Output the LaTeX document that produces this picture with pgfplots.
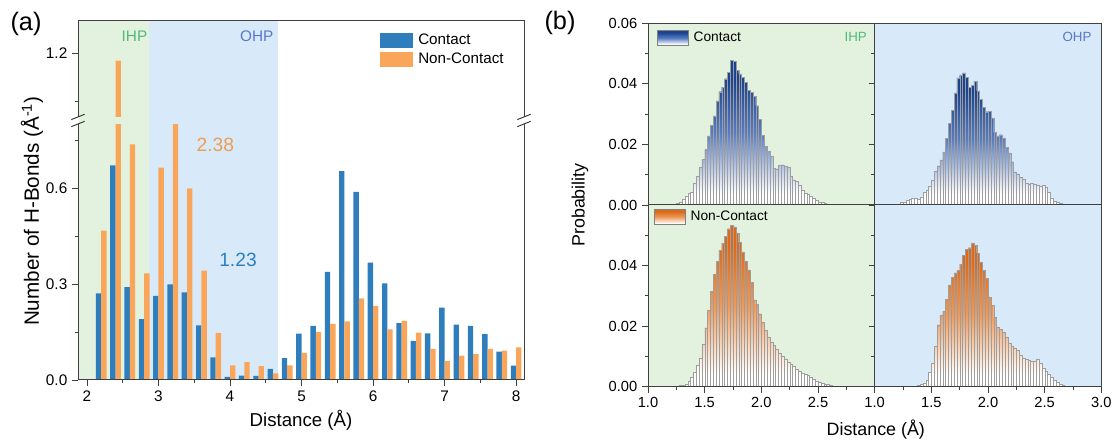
\documentclass[border=0pt]{standalone}
\usepackage{pgfplots}
\pgfplotsset{compat=1.18}
\usepackage{pgfplotstable}
\usepackage{fontspec}
\setmainfont{Liberation Sans}
\usetikzlibrary{calc}

\definecolor{cBlue}{RGB}{46,126,190}
\definecolor{cOrange}{RGB}{250,166,90}
\definecolor{bgGreen}{RGB}{226,242,222}
\definecolor{bgBlue}{RGB}{216,234,249}
\definecolor{tGreen}{RGB}{80,185,120}
\definecolor{tBlue}{RGB}{90,120,200}
\definecolor{cNavy}{RGB}{26,68,145}
\definecolor{cMidB}{RGB}{88,124,192}
\definecolor{cDarkOr}{RGB}{220,106,26}
\definecolor{cMidO}{RGB}{238,155,92}

\pgfdeclareverticalshading{navyshade}{100bp}{color(0bp)=(white); color(25bp)=(white); color(29bp)=(white); color(50bp)=(cMidB); color(68bp)=(cNavy); color(100bp)=(cNavy)}
\pgfdeclareverticalshading{orshade}{100bp}{color(0bp)=(white); color(25bp)=(white); color(29bp)=(white); color(50bp)=(cMidO); color(68bp)=(cDarkOr); color(100bp)=(cDarkOr)}

\pgfplotstableread{
x c nc
2.2 0.271 0.467
2.4 0.671 1.176
2.6 0.290 0.736
2.8 0.190 0.333
3.0 0.263 0.664
3.2 0.299 0.800
3.4 0.274 0.599
3.6 0.171 0.342
3.8 0.071 0.147
4.0 0.010 0.046
4.2 0.014 0.056
4.4 0.013 0.043
4.6 0.035 0.021
4.8 0.068 0.046
5.0 0.145 0.085
5.2 0.169 0.150
5.4 0.338 0.175
5.6 0.653 0.183
5.8 0.588 0.255
6.0 0.367 0.232
6.2 0.302 0.158
6.4 0.178 0.185
6.6 0.122 0.148
6.8 0.146 0.097
7.0 0.226 0.059
7.2 0.173 0.076
7.4 0.169 0.081
7.6 0.143 0.097
7.8 0.089 0.092
8.0 0.045 0.102
}\dataA

\pgfplotstableread{
x p
1.225 0.0003
1.25 0.0006
1.275 0.0008
1.3 0.0018
1.325 0.0030
1.35 0.0040
1.375 0.0044
1.4 0.0072
1.425 0.0094
1.45 0.0124
1.475 0.0150
1.5 0.0183
1.525 0.0228
1.55 0.0263
1.575 0.0294
1.6 0.0344
1.625 0.0374
1.65 0.0389
1.675 0.0417
1.7 0.0439
1.725 0.0478
1.75 0.0474
1.775 0.0444
1.8 0.0433
1.825 0.0422
1.85 0.0406
1.875 0.0378
1.9 0.0372
1.925 0.0359
1.95 0.0328
1.975 0.0283
2.0 0.0230
2.025 0.0194
2.05 0.0178
2.075 0.0161
2.1 0.0122
2.125 0.0120
2.15 0.0131
2.175 0.0133
2.2 0.0128
2.225 0.0126
2.25 0.0094
2.275 0.0083
2.3 0.0078
2.325 0.0067
2.35 0.0048
2.375 0.0039
2.4 0.0037
2.425 0.0030
2.45 0.0022
2.475 0.0017
2.5 0.0011
2.525 0.0008
2.55 0.0006
2.575 0.0003
2.6 0.0002
2.625 0.0001
}\dCI

\pgfplotstableread{
x p
1.225 0.0008
1.25 0.0011
1.275 0.0015
1.3 0.0020
1.325 0.0023
1.35 0.0022
1.375 0.0020
1.4 0.0027
1.425 0.0041
1.45 0.0050
1.475 0.0063
1.5 0.0081
1.525 0.0112
1.55 0.0130
1.575 0.0149
1.6 0.0175
1.625 0.0220
1.65 0.0270
1.675 0.0312
1.7 0.0370
1.725 0.0420
1.75 0.0430
1.775 0.0436
1.8 0.0422
1.825 0.0388
1.85 0.0396
1.875 0.0408
1.9 0.0377
1.925 0.0348
1.95 0.0323
1.975 0.0308
2.0 0.0310
2.025 0.0288
2.05 0.0240
2.075 0.0228
2.1 0.0232
2.125 0.0222
2.15 0.0190
2.175 0.0172
2.2 0.0143
2.225 0.0110
2.25 0.0103
2.275 0.0092
2.3 0.0086
2.325 0.0072
2.35 0.0070
2.375 0.0071
2.4 0.0069
2.425 0.0066
2.45 0.0064
2.475 0.0066
2.5 0.0058
2.525 0.0042
2.55 0.0024
2.575 0.0013
2.6 0.0009
2.625 0.0005
2.65 0.0002
}\dCO

\pgfplotstableread{
x p
1.25 0.0003
1.275 0.0004
1.3 0.0005
1.325 0.0009
1.35 0.0018
1.375 0.0032
1.4 0.0049
1.425 0.0072
1.45 0.0095
1.475 0.0140
1.5 0.0195
1.525 0.0252
1.55 0.0315
1.575 0.0372
1.6 0.0414
1.625 0.0451
1.65 0.0474
1.675 0.0496
1.7 0.0522
1.725 0.0532
1.75 0.0528
1.775 0.0508
1.8 0.0477
1.825 0.0445
1.85 0.0414
1.875 0.0386
1.9 0.0345
1.925 0.0287
1.95 0.0272
1.975 0.0241
2.0 0.0212
2.025 0.0186
2.05 0.0165
2.075 0.0148
2.1 0.0136
2.125 0.0125
2.15 0.0112
2.175 0.0102
2.2 0.0091
2.225 0.0082
2.25 0.0074
2.275 0.0067
2.3 0.0057
2.325 0.0050
2.35 0.0046
2.375 0.0042
2.4 0.0037
2.425 0.0031
2.45 0.0025
2.475 0.0020
2.5 0.0016
2.525 0.0013
2.55 0.0009
2.575 0.0008
2.6 0.0005
2.625 0.0003
}\dNI

\pgfplotstableread{
x p
1.35 0.0003
1.375 0.0005
1.4 0.0008
1.425 0.0013
1.45 0.0022
1.475 0.0047
1.5 0.0079
1.525 0.0133
1.55 0.0205
1.575 0.0237
1.6 0.0249
1.625 0.0289
1.65 0.0336
1.675 0.0361
1.7 0.0376
1.725 0.0385
1.75 0.0405
1.775 0.0433
1.8 0.0453
1.825 0.0459
1.85 0.0475
1.875 0.0467
1.9 0.0441
1.925 0.0411
1.95 0.0385
1.975 0.0358
2.0 0.0297
2.025 0.0268
2.05 0.0230
2.075 0.0198
2.1 0.0189
2.125 0.0180
2.15 0.0165
2.175 0.0145
2.2 0.0135
2.225 0.0129
2.25 0.0121
2.275 0.0106
2.3 0.0093
2.325 0.0090
2.35 0.0088
2.375 0.0085
2.4 0.0083
2.425 0.0091
2.45 0.0078
2.475 0.0063
2.5 0.0051
2.525 0.0042
2.55 0.0032
2.575 0.0022
2.6 0.0014
2.625 0.0009
2.65 0.0004
2.675 0.0002
}\dNO

\pgfplotsset{
  common/.style={
    scale only axis,
    axis on top,
    tick pos=left,
    tick align=outside,
    major tick length=4.5pt,
    minor tick length=2.5pt,
    tick style={black!75, line width=0.6pt},
    axis line style={black!75, line width=0.75pt},
    scaled ticks=false,
    /pgf/number format/assume math mode=true,
  },
  bstyle/.style={
    common,
    width=170pt, height=136.3pt,
    xmin=1, xmax=3, ymin=0, ymax=0.06,
    xtick={1,1.5,2,2.5,3}, minor xtick={1.25,1.75,2.25,2.75},
    ytick={0,0.02,0.04,0.06}, minor ytick={0.01,0.03,0.05},
    tick label style={font=\fontsize{11}{13}\selectfont},
    xticklabels={}, yticklabels={},
  },
  hist/.style={ybar, bar width=0.025, bar shift=0pt, draw=black!38, line width=0.15pt},
}

\begin{document}
\begin{tikzpicture}
\path[use as bounding box] (0,0) rectangle (836.25pt,330.75pt);

% ---------------- panel (a)
\begin{axis}[common, name=A,
  at={(58.5pt,45.75pt)}, anchor=south west,
  width=334.5pt, height=269.25pt,
  xmin=1.875, xmax=8.11, ymin=0, ymax=1.122,
  xtick={2,3,4,5,6,7,8}, xticklabels={2,3,4,5,6,7,8},
  minor xtick={2.5,3.5,4.5,5.5,6.5,7.5},
  ytick={0,0.3,0.6,1.022}, yticklabels={0.0,0.3,0.6,1.2},
  minor ytick={0.15,0.45,0.75,0.872},
  tick label style={font=\fontsize{11.5}{13}\selectfont},
  xlabel={Distance (Å)}, ylabel={Number of H-Bonds (Å\textsuperscript{-1})},
  every axis x label/.style={at={(axis description cs:0.5,-0.111)}, anchor=center, font=\fontsize{14}{16}\selectfont},
  every axis y label/.style={at={(axis description cs:-0.103,0.47)}, anchor=center, rotate=90, font=\fontsize{15.5}{18}\selectfont},
  legend style={at={(axis description cs:0.677,0.967)}, anchor=north west, draw=none, fill=none,
    inner sep=0pt, outer sep=0pt, row sep=2.5pt, column sep=3.75pt,
    font=\fontsize{11.4}{13}\selectfont, nodes={inner sep=0pt}},
  legend cell align=left,
]
\fill[bgGreen] (axis cs:1.875,0) rectangle (axis cs:2.862,1.122);
\fill[bgBlue] (axis cs:2.862,0) rectangle (axis cs:4.67,1.122);
\addplot[ybar, bar width=0.075, bar shift=0pt, fill=cBlue, draw=none,
  legend image code/.code={\fill[cBlue] (0pt,-5.8pt) rectangle (25pt,5.8pt);}]
  table[x expr=\thisrow{x}-0.0375, y=c] {\dataA};
\addlegendentry{Contact}
\addplot[ybar, bar width=0.075, bar shift=0pt, fill=cOrange, draw=none,
  legend image code/.code={\fill[cOrange] (0pt,-5.8pt) rectangle (25pt,5.8pt);}]
  table[x expr=\thisrow{x}+0.0375, y expr={\thisrow{nc}>0.9 ? \thisrow{nc}-0.178 : \thisrow{nc}}] {\dataA};
\addlegendentry{Non-Contact}
\fill[bgGreen] (axis cs:2.395,0.800) rectangle (axis cs:2.48,0.822);
\end{axis}
% break marks
\foreach \anc in {south west, south east}{
  \fill[white] ([xshift=-1pt,yshift=192pt]A.\anc) rectangle ([xshift=1pt,yshift=197.3pt]A.\anc);
  \draw[black!80, line width=0.7pt] ([xshift=-5pt,yshift=190pt]A.\anc) -- ([xshift=5pt,yshift=194pt]A.\anc);
  \draw[black!80, line width=0.7pt] ([xshift=-5pt,yshift=195.3pt]A.\anc) -- ([xshift=5pt,yshift=199.3pt]A.\anc);
}

% ---------------- panel (b)
\begin{axis}[bstyle, name=TL, at={(486pt,177pt)}, anchor=south west,
  axis background/.style={fill=bgGreen},
  yticklabels={0.00,0.02,0.04,0.06},
  legend style={at={(axis description cs:0.04,0.963)}, anchor=north west, draw=none, fill=none,
    inner sep=0pt, column sep=3.75pt, font=\fontsize{10.3}{12}\selectfont, nodes={inner sep=0pt}},
  legend image code/.code={\path[draw=black!50, line width=0.5pt, shade, shading=navyshade] (0pt,-5.6pt) rectangle (23pt,5.6pt);},
]
\addplot[hist, shade, shading=navyshade] table[x expr=\thisrow{x}+0.0125, y=p] {\dCI};
\addlegendentry{Contact}
\end{axis}

\begin{axis}[bstyle, name=TR, at={(656pt,177pt)}, anchor=south west,
  axis background/.style={fill=bgBlue},
]
\addplot[hist, shade, shading=navyshade] table[x expr=\thisrow{x}+0.0125, y=p] {\dCO};
\end{axis}

\begin{axis}[bstyle, name=BL, at={(486pt,40.7pt)}, anchor=south west,
  axis background/.style={fill=bgGreen},
  yticklabels={0.00,0.02,0.04,{}},
  xticklabels={1.0,1.5,2.0,2.5,{}},
  legend style={at={(axis description cs:0.0265,0.978)}, anchor=north west, draw=none, fill=none,
    inner sep=0pt, column sep=3.75pt, font=\fontsize{10.3}{12}\selectfont, nodes={inner sep=0pt}},
  legend image code/.code={\path[draw=black!50, line width=0.5pt, shade, shading=orshade] (0pt,-5.6pt) rectangle (23pt,5.6pt);},
]
\addplot[hist, shade, shading=orshade] table[x expr=\thisrow{x}+0.0125, y=p] {\dNI};
\addlegendentry{Non-Contact}
\end{axis}

\begin{axis}[bstyle, name=BR, at={(656pt,40.7pt)}, anchor=south west,
  axis background/.style={fill=bgBlue},
  xticklabels={1.0,1.5,2.0,2.5,3.0},
]
\addplot[hist, shade, shading=orshade] table[x expr=\thisrow{x}+0.0125, y=p] {\dNO};
\end{axis}

% ---------------- text in pixel coordinates
\begin{scope}[x=0.75pt, y=-0.75pt, yshift=330.75pt]
\node[font=\fontsize{19}{22}\selectfont] at (26,24) {(a)};
\node[font=\fontsize{19}{22}\selectfont] at (560,23) {(b)};
\node[font=\fontsize{11.5}{13}\selectfont, text=tGreen] at (134.5,36) {IHP};
\node[font=\fontsize{11.5}{13}\selectfont, text=tBlue] at (256.7,36) {OHP};
\node[font=\fontsize{14.4}{16}\selectfont, text=cOrange!95!black] at (215.3,145) {2.38};
\node[font=\fontsize{14.4}{16}\selectfont, text=cBlue] at (238,260) {1.23};
\node[font=\fontsize{10}{12}\selectfont, text=tGreen] at (855.7,36.7) {IHP};
\node[font=\fontsize{10}{12}\selectfont, text=tBlue] at (1077,36.7) {OHP};
\node[font=\fontsize{13.4}{15}\selectfont, rotate=90] at (580,205) {Probability};
\node[font=\fontsize{13.4}{15}\selectfont] at (875.8,430) {Distance (Å)};
\end{scope}
\end{tikzpicture}
\end{document}
